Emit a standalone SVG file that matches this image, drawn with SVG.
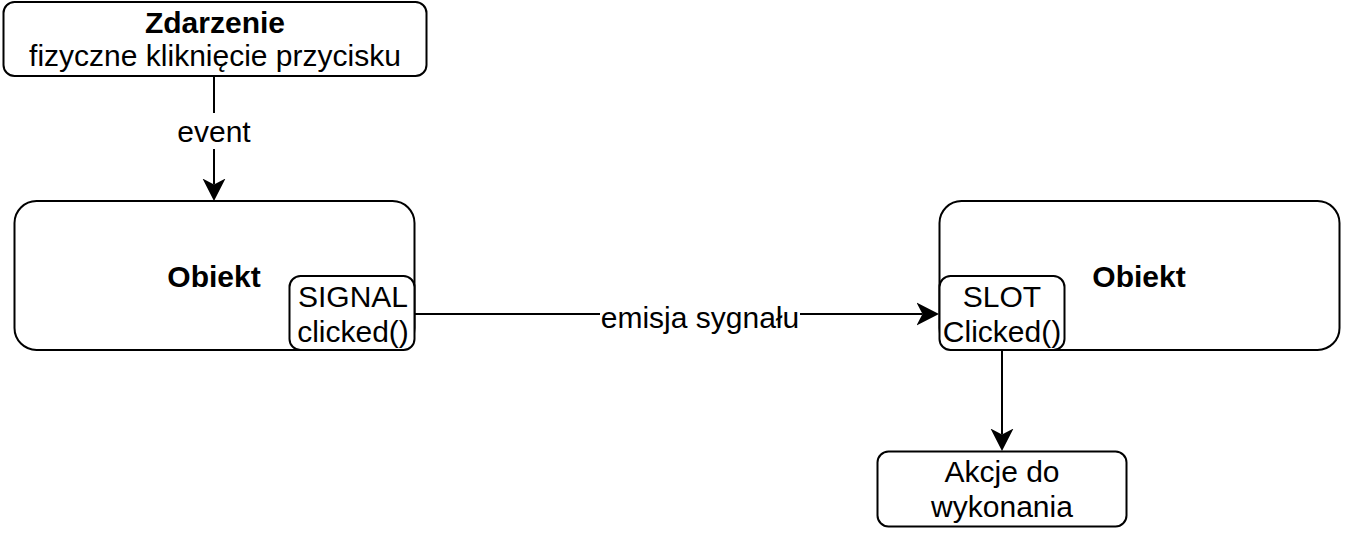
<svg xmlns="http://www.w3.org/2000/svg" width="1357" height="536" viewBox="0 0 1357 536">
<style>
.box{fill:#fff;stroke:#000;stroke-width:2}
.t{font-family:"Liberation Sans",Arial,sans-serif;font-size:30px;fill:#000;text-anchor:middle}
.b{font-weight:bold}
.edge{fill:none;stroke:#000;stroke-width:2}
.lbl{fill:#fff}
</style>
<defs>
<marker id="arr" markerUnits="userSpaceOnUse" viewBox="0 0 23 24" markerWidth="23" markerHeight="24" refX="6" refY="12" orient="auto">
<path d="M0,0.5 L22.5,12 L0,23.5 L6,12 Z" fill="#000"/>
</marker>
</defs>
<rect width="1357" height="536" fill="#fff"/>
<g id="connectors">
<path class="edge" d="M214,77 V184.5" marker-end="url(#arr)"/>
<rect class="lbl" x="172" y="113" width="84" height="36"/>
<text class="t" x="214" y="142">event</text>
<path class="edge" d="M415,314 H922.5" marker-end="url(#arr)"/>
<rect class="lbl" x="600" y="302" width="200" height="32"/>
<text class="t" x="700" y="328">emisja sygnału</text>
<path class="edge" d="M1002,351 V434.5" marker-end="url(#arr)"/>
</g>
<g id="zdarzenie">
<rect class="box" x="3.5" y="2" width="423" height="74" rx="11"/>
<text class="t b" x="215" y="33">Zdarzenie</text>
<text class="t" x="215" y="66">fizyczne kliknięcie przycisku</text>
</g>
<g id="obiekt1">
<rect class="box" x="14.5" y="201" width="400" height="149" rx="22"/>
<text class="t b" x="214" y="287">Obiekt</text>
</g>
<g id="signal">
<rect class="box" x="289.5" y="276" width="125" height="74" rx="11"/>
<text class="t" x="353" y="307">SIGNAL</text>
<text class="t" x="353" y="342">clicked()</text>
</g>
<g id="obiekt2">
<rect class="box" x="939.5" y="201" width="400" height="149" rx="22"/>
<text class="t b" x="1139" y="287">Obiekt</text>
</g>
<g id="slot">
<rect class="box" x="939.5" y="276" width="125" height="74" rx="11"/>
<text class="t" x="1002" y="307">SLOT</text>
<text class="t" x="1002" y="342">Clicked()</text>
</g>
<g id="akcje">
<rect class="box" x="877.5" y="451.5" width="249" height="75" rx="11"/>
<text class="t" x="1002" y="482">Akcje do</text>
<text class="t" x="1002" y="517">wykonania</text>
</g>
</svg>
